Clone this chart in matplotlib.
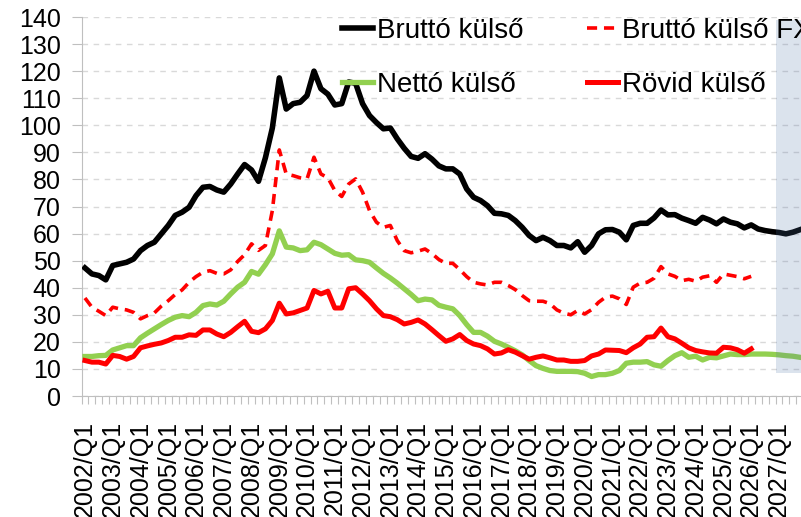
import matplotlib.pyplot as plt
import numpy as np

plt.rcParams['font.family'] = ['Liberation Sans', 'DejaVu Sans']

# quarterly data from 2002/Q1
start_year = 2002
last_label_year = 2027
brutto = [47.3, 45.1, 44.5, 42.9, 48.2, 48.8, 49.4, 50.6, 53.7, 55.6,
          56.8, 59.9, 63.0, 66.7, 67.9, 69.7, 74.0, 77.1, 77.4, 76.1,
          75.3, 78.3, 82.0, 85.5, 83.5, 79.3, 88.0, 99.0, 117.5, 106.0,
          108.0, 108.5, 111.0, 120.0, 113.5, 111.5, 107.5, 108.0, 116.0, 115.5,
          108.0, 103.6, 101.0, 98.7, 99.0, 95.0, 91.5, 88.5, 87.8, 89.5,
          87.5, 85.0, 83.9, 83.9, 82.0, 76.5, 73.4, 72.2, 70.3, 67.5,
          67.3, 66.7, 64.8, 62.3, 59.3, 57.4, 58.6, 57.4, 55.6, 55.6,
          54.7, 57.0, 53.1, 55.6, 59.9, 61.4, 61.5, 60.5, 57.7, 63.0,
          63.8, 63.8, 65.8, 68.7, 66.9, 67.0, 65.7, 64.8, 63.8, 66.0,
          65.0, 63.6, 65.4, 64.2, 63.6, 62.1, 63.2, 61.7, 61.1, 60.7,
          60.4, 59.9, 60.5, 61.4]
brutto_fx = [36.2, 32.8, 31.3, 29.7, 32.8, 32.2, 31.8, 30.9, 28.5, 29.7,
             30.7, 33.2, 35.2, 37.5, 39.2, 42.0, 44.1, 45.7, 46.3, 45.3,
             45.1, 46.6, 49.7, 52.2, 56.2, 53.8, 55.6, 68.5, 90.9, 82.0,
             81.4, 80.6, 80.2, 88.2, 82.0, 80.6, 75.9, 73.7, 78.3, 80.2,
             75.3, 68.5, 64.2, 62.3, 63.0, 57.4, 53.7, 52.9, 53.5, 54.3,
             52.6, 50.4, 49.0, 49.0, 46.7, 44.1, 42.0, 41.4, 41.0, 42.0,
             42.0, 40.8, 39.3, 37.1, 35.2, 35.0, 35.0, 34.1, 31.8, 30.6,
             30.0, 31.6, 30.3, 31.9, 34.6, 36.5, 36.9, 35.9, 33.8, 40.2,
             41.7, 42.0, 43.5, 47.8, 45.1, 44.2, 42.6, 43.1, 42.4, 43.9,
             44.4, 42.0, 45.1, 44.6, 44.1, 43.3, 44.2]
netto = [14.6, 14.6, 14.9, 15.0, 17.0, 17.8, 18.6, 18.6, 21.5, 23.2,
         24.8, 26.4, 27.9, 29.1, 29.7, 29.3, 30.9, 33.4, 34.0, 33.6,
         35.0, 37.7, 40.2, 42.0, 46.0, 45.0, 48.5, 52.5, 61.0, 55.0,
         54.7, 53.7, 54.0, 56.8, 55.9, 54.3, 52.7, 52.0, 52.2, 50.3,
         50.0, 49.4, 47.3, 45.3, 43.6, 41.7, 39.6, 37.5, 35.2, 35.8,
         35.5, 33.5, 32.8, 32.2, 29.7, 26.4, 23.5, 23.5, 22.1, 20.2,
         19.2, 18.0, 16.7, 15.2, 13.1, 11.2, 10.2, 9.4, 9.1, 9.1,
         9.1, 9.0, 8.4, 7.2, 7.9, 7.9, 8.4, 9.4, 12.1, 12.5,
         12.5, 12.7, 11.5, 11.0, 13.1, 14.9, 16.0, 14.3, 14.7, 13.3,
         14.3, 14.1, 14.8, 15.5, 15.3, 15.3, 15.5, 15.5, 15.5, 15.4,
         15.2, 14.9, 14.7, 14.3]
rovid = [13.1, 12.5, 12.5, 11.8, 15.0, 14.6, 13.6, 14.6, 17.8, 18.5,
         19.1, 19.6, 20.5, 21.7, 21.7, 22.6, 22.4, 24.4, 24.4, 22.9,
         21.9, 23.5, 25.6, 27.6, 23.9, 23.4, 24.8, 27.9, 34.3, 30.3,
         30.7, 31.6, 32.5, 39.0, 37.7, 38.7, 32.5, 32.5, 39.6, 40.0,
         37.7, 35.2, 32.2, 29.7, 29.3, 28.2, 26.6, 27.2, 28.1, 26.6,
         24.5, 22.3, 20.2, 21.1, 22.7, 20.5, 19.2, 18.6, 17.4, 15.5,
         15.9, 17.1, 16.2, 14.9, 13.6, 14.3, 14.8, 14.1, 13.3, 13.3,
         12.8, 12.8, 13.1, 14.8, 15.5, 17.0, 16.9, 16.8, 16.0, 17.8,
         19.2, 21.7, 21.9, 25.1, 21.9, 21.1, 19.5, 17.8, 16.8, 16.3,
         15.9, 15.8, 18.0, 17.8, 17.1, 15.8, 17.4]
labels = ['Bruttó külső', 'Bruttó külső FX', 'Nettó külső', 'Rövid külső']

# forecast shading
shade_start = 99.5
shade_low, shade_high = 8.6, 139

n = len(brutto)
x_all = np.arange(n)
years = list(range(start_year, last_label_year + 1))

fig = plt.figure(figsize=(8.01, 5.17), dpi=100)
ax = fig.add_axes([81.5 / 801, 121 / 517, 1 - 81.5 / 801, 379 / 517])

l1, = ax.plot(x_all, brutto, color='black', lw=4.0, zorder=3, solid_joinstyle='round')
l2, = ax.plot(np.arange(len(brutto_fx)), brutto_fx, color='#FF0000', lw=2.6,
              dashes=(2.8, 1.9), zorder=3)
l3, = ax.plot(x_all, netto, color='#92D050', lw=3.8, zorder=3, solid_joinstyle='round')
l4, = ax.plot(np.arange(len(rovid)), rovid, color='#FF0000', lw=3.6, zorder=3,
              solid_joinstyle='round')

ax.fill_between([shade_start, n + 2], shade_low, shade_high, color='#4F74A8',
                alpha=0.2, lw=0, zorder=5)

ax.set_yticks(range(0, 141, 10))
ax.yaxis.grid(True, color='#D9D9D9', linestyle=(0, (4, 4)), lw=1)
ax.set_axisbelow(True)

ax.set_xticks(range(0, len(years) * 4, 4))
ax.set_xticklabels([f'{y}/Q1' for y in years], rotation=90)
ax.set_xticks(np.arange(-0.5, n + 2, 1), minor=True)
ax.tick_params(axis='x', which='major', length=0, pad=18, labelsize=18)
ax.tick_params(axis='x', which='minor', length=6, color='#BFBFBF', width=0.8)
ax.tick_params(axis='y', length=7, color='#BFBFBF', pad=8, labelsize=18)
ax.set_ylim(0, 140)
ax.set_xlim(-0.5, -0.5 + (801 - 81.5) / 6.94)

for s in ['top', 'right']:
    ax.spines[s].set_visible(False)
for s in ['left', 'bottom']:
    ax.spines[s].set_color('#BFBFBF')

leg = ax.legend([l1, l3, l2, l4], [labels[0], labels[2], labels[1], labels[3]],
                ncol=2, frameon=False, fontsize=20, loc='upper left',
                bbox_to_anchor=(342 / 801, 1 - 18 / 517), bbox_transform=fig.transFigure,
                borderpad=0, borderaxespad=0, handlelength=1.1, handletextpad=0.15,
                columnspacing=2.3, labelspacing=1.0)
leg.set_zorder(10)

fig.savefig('out.png', dpi=100)
